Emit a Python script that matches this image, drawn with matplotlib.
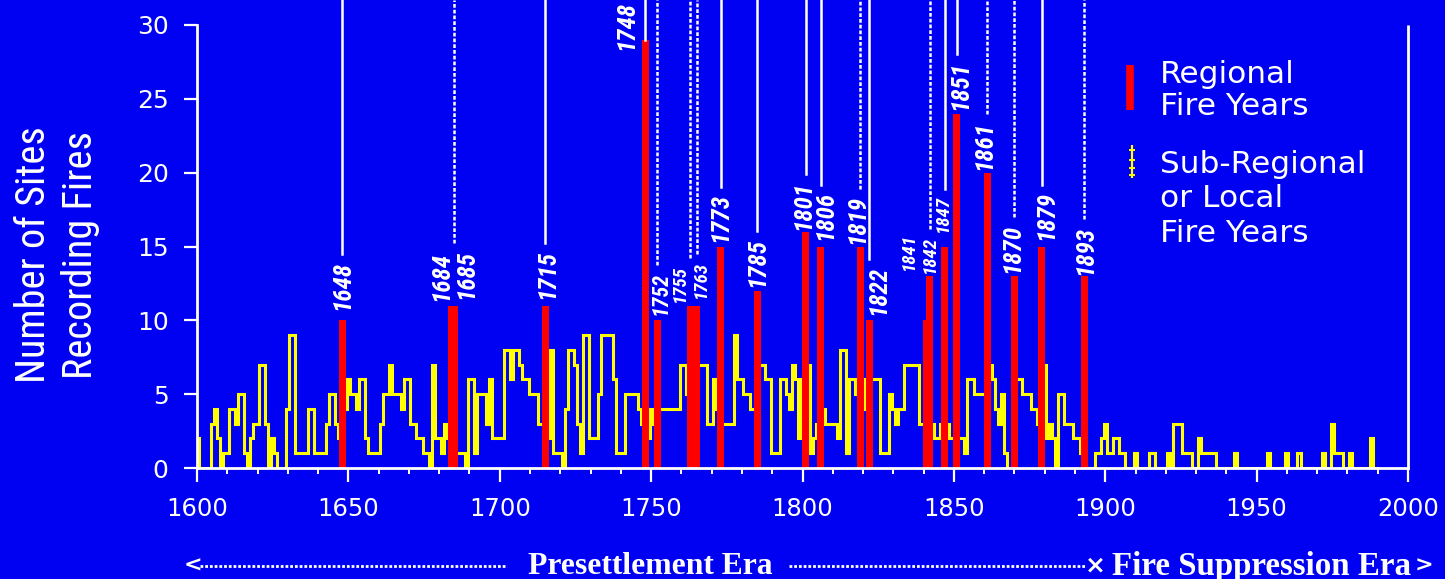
import numpy as np
import matplotlib
matplotlib.use("Agg")
import matplotlib.pyplot as plt
from matplotlib import font_manager as fm
from matplotlib.lines import Line2D

# ------------------------------------------------------------------
# Fire-history record: number of sites recording fire in each year
# ------------------------------------------------------------------
first_year = 1600
sub_regional_sites = [
    # 1600-1609 ... one row per decade
    2, 0, 0, 0, 0, 3, 4, 2, 0, 1,
    1, 4, 4, 3, 5, 5, 1, 0, 2, 3,
    3, 7, 7, 3, 0, 2, 1, 0, 0, 0,
    4, 9, 9, 1, 1, 1, 1, 4, 4, 1,
    1, 1, 1, 3, 5, 5, 3, 2, 1, 4,
    6, 5, 5, 4, 6, 6, 2, 1, 1, 1,
    1, 3, 5, 5, 7, 5, 5, 5, 4, 6,
    6, 3, 3, 2, 2, 1, 1, 0, 7, 2,
    2, 1, 3, 2, 2, 2, 1, 1, 1, 0,
    6, 6, 1, 5, 5, 5, 3, 6, 2, 2,
    2, 2, 8, 8, 6, 8, 8, 7, 6, 6,   # 1700s
    5, 5, 5, 3, 3, 2, 2, 8, 1, 1,
    1, 0, 4, 8, 8, 7, 3, 1, 9, 9,
    2, 2, 2, 5, 9, 9, 9, 9, 6, 1,
    1, 1, 5, 5, 5, 5, 4, 3, 3, 2,
    4, 3, 3, 4, 4, 4, 4, 4, 4, 4,
    7, 7, 5, 3, 4, 3, 7, 7, 7, 3,
    3, 6, 4, 3, 3, 3, 3, 3, 9, 6,
    6, 5, 5, 4, 4, 3, 7, 7, 6, 6,
    1, 1, 1, 6, 6, 5, 4, 7, 6, 2,
    6, 3, 7, 1, 2, 3, 4, 4, 3, 3,   # 1800s
    3, 3, 2, 8, 8, 1, 6, 6, 5, 3,
    6, 4, 3, 6, 6, 6, 1, 1, 1, 5,
    4, 3, 4, 4, 7, 7, 7, 7, 7, 3,
    3, 3, 3, 3, 2, 2, 3, 3, 3, 2,
    2, 2, 2, 2, 1, 6, 6, 5, 5, 5,
    5, 3, 7, 6, 4, 3, 5, 1, 0, 0,
    3, 6, 6, 5, 5, 5, 4, 4, 3, 3,
    7, 2, 3, 2, 0, 5, 5, 3, 3, 3,
    2, 2, 1, 3, 0, 0, 0, 1, 1, 2,
    3, 1, 1, 2, 2, 1, 1, 0, 0, 0,   # 1900s
    1, 0, 0, 0, 0, 1, 1, 0, 0, 0,
    0, 1, 0, 3, 3, 3, 1, 1, 1, 0,
    0, 2, 1, 1, 1, 1, 1, 0, 0, 0,
    0, 0, 0, 1, 0, 0, 0, 0, 0, 0,
    0, 0, 0, 0, 1, 0, 0, 0, 0, 0,
    1, 0, 0, 0, 1, 0, 0, 0, 0, 0,
    0, 0, 1, 0, 0, 3, 1, 1, 1, 0,
    0, 1, 0, 0, 0, 0, 0, 0, 2, 0,
    0,
]
years = np.arange(first_year, first_year + len(sub_regional_sites))

regional_years = [1648, 1684, 1685, 1715, 1748, 1752, 1763, 1765, 1773, 1785,
                  1801, 1806, 1819, 1822, 1841, 1842, 1847, 1851, 1861, 1870,
                  1879, 1893]
regional_sites = [10, 11, 11, 11, 29, 10, 11, 11, 15, 12,
                  16, 15, 15, 10, 10, 13, 15, 24, 20, 13,
                  15, 13]
regional_labels = ["1648", "1684", "1685", "1715", "1748", "1752", "1755", "1763",
                   "1773", "1785", "1801", "1806", "1819", "1822", "1841", "1842",
                   "1847", "1851", "1861", "1870", "1879", "1893"]

y_ticks = [0, 5, 10, 15, 20, 25, 30]
x_ticks = [1600, 1650, 1700, 1750, 1800, 1850, 1900, 1950, 2000]

# ------------------------------------------------------------------
# Styling
# ------------------------------------------------------------------
BLUE = "#0000F2"
RED = "#FF0000"
YELLOW = "#FFFF00"
WHITE = "#FFFFFF"

W, H, DPI = 1445, 579, 100

available = {f.name for f in fm.fontManager.ttflist}


def first_available(names, default="DejaVu Sans"):
    for n in names:
        if n in available:
            return n
    return default


NARROW = first_available(["Liberation Sans Narrow", "Roboto Condensed",
                          "Open Sans Condensed", "Arial Narrow"])
narrow_kw = {"family": NARROW}
if NARROW == "DejaVu Sans":
    narrow_kw["fontstretch"] = "condensed"
SERIF = first_available(["Liberation Serif", "DejaVu Serif"])

fig = plt.figure(figsize=(W / DPI, H / DPI), dpi=DPI, facecolor=BLUE)
renderer = fig.canvas.get_renderer()


def fpos(x, y):
    """pixel position (from top-left) -> figure fraction"""
    return x / W, 1 - y / H


def fitted_size(text, target_px, **kw):
    probe = fig.text(0, 0, text, fontsize=20, **kw)
    width = probe.get_window_extent(renderer).width
    probe.remove()
    return 20 * target_px / width


ax = fig.add_axes([197 / W, 1 - 468 / H, (1408 - 197) / W, (468 - 25) / H])
ax.set_facecolor(BLUE)
ax.set_xlim(1600, 2000)
ax.set_ylim(0, 30)

# sub-regional / local fire years: yearly outline
edges = np.append(years, years[-1] + 1) - 0.5
ax.stairs(sub_regional_sites, edges, baseline=0, fill=False,
          color=YELLOW, linewidth=2.2, zorder=2)

# regional fire years
ax.bar(regional_years, regional_sites, width=2.3, color=RED,
       linewidth=0, zorder=3)

# axes cosmetics
ax.spines["top"].set_visible(False)
for side in ("left", "bottom"):
    ax.spines[side].set_color(WHITE)
    ax.spines[side].set_linewidth(2)
    ax.spines[side].set_zorder(4)
ax.spines["right"].set_color(WHITE)
ax.spines["right"].set_linewidth(2)
ax.spines["right"].set_linestyle((0, (1, 1)))

ax.set_yticks(y_ticks)
ax.set_xticks(x_ticks)
ax.set_xticks(np.arange(1600, 2001, 10), minor=True)
ax.tick_params(axis="y", direction="out", length=9.5, width=1.6, pad=11,
               colors=WHITE, labelsize=18)
ax.tick_params(axis="x", which="major", direction="out", length=10, width=1.6,
               pad=11, colors=WHITE, labelsize=17.5)
ax.tick_params(axis="x", which="minor", direction="out", length=4, width=1.4,
               colors=WHITE)

# y-axis title
ylab_size = fitted_size("Number of Sites", 256, **narrow_kw)
fig.text(*fpos(57, 255), "Number of Sites\nRecording Fires", rotation=90,
         ha="center", va="center", multialignment="center", color=WHITE,
         fontsize=ylab_size, linespacing=50 / (ylab_size * DPI / 72), **narrow_kw)

# ------------------------------------------------------------------
# Year labels with leader lines
# ------------------------------------------------------------------
# label: (x shift px, gap above bar px, type size, leader style)
label_layout = {
    "1648": (0, 10, "big", "solid"),
    "1684": (-10, 5, "big", None),
    "1685": (12, 7, "big", "dotted"),
    "1715": (2, 7, "big", "solid"),
    "1748": (-19, -10, "big", "side"),
    "1752": (3, 5, "mid", "dotted"),
    "1755": (-11, 4, "small", "dotted"),
    "1763": (4, 8, "small", "dotted"),
    "1773": (0, 4, "big", "solid"),
    "1785": (0, 4, "big", "solid"),
    "1801": (-2, 2, "big", "solid"),
    "1806": (5, 6, "big", "solid"),
    "1819": (-3, 2, "big", "dotted"),
    "1822": (9, 5, "big", "solid"),
    "1841": (-18, 50, "small", None),
    "1842": (0, 3, "small", "dotted"),
    "1847": (-2, 14, "small", "solid"),
    "1851": (3, 4, "big", "solid"),
    "1861": (-3, 3, "big", "dotted"),
    "1870": (-2, 3, "big", "dotted"),
    "1879": (5, 6, "big", "solid"),
    "1893": (1, 1, "big", "dotted"),
}

label_kw = dict(weight="bold", style="italic", **narrow_kw)
label_sizes = {"big": fitted_size("1648", 49, **label_kw),
               "mid": fitted_size("1648", 43, **label_kw),
               "small": fitted_size("1648", 37, **label_kw)}

texts = []
for yr, val, lab in zip(regional_years, regional_sites, regional_labels):
    dx, gap, size_key, leader = label_layout[lab]
    t = ax.annotate(lab, xy=(yr, val), xycoords="data",
                    xytext=(dx, gap), textcoords="offset pixels",
                    rotation=90, ha="center", va="bottom", color=WHITE,
                    fontsize=label_sizes[size_key],
                    annotation_clip=False, zorder=5, **label_kw)
    texts.append((t, yr, val, leader))

fig.canvas.draw()
to_fig = fig.transFigure.inverted()
for t, yr, val, leader in texts:
    if leader is None:
        continue
    bx, by = ax.transData.transform((yr, val))
    if leader == "side":
        y0 = by
    else:
        y0 = t.get_window_extent(renderer).y1 + 7
    (fx, fy0) = to_fig.transform((bx, y0))
    ls = "-" if leader in ("solid", "side") else (0, (1.5, 0.8))
    fig.add_artist(Line2D([fx, fx], [fy0, 1.0], color=WHITE, linewidth=1.8,
                          linestyle=ls, zorder=5))

# ------------------------------------------------------------------
# Legend
# ------------------------------------------------------------------
fig.add_artist(Line2D([1130 / W] * 2, [1 - 65 / H, 1 - 110 / H],
                      color=RED, linewidth=5.5, solid_capstyle="butt"))
fig.add_artist(Line2D([1132 / W] * 2, [1 - 145 / H, 1 - 178 / H],
                      color=YELLOW, linewidth=1.6, solid_capstyle="butt"))
fig.add_artist(Line2D([1132 / W] * 4, [1 - y / H for y in (150, 160, 168, 175)],
                      color=YELLOW, linestyle="none", marker="_", markersize=5,
                      markeredgewidth=1.4))
legend_lines = [("Regional", 83), ("Fire Years", 115),
                ("Sub-Regional", 173), ("or Local", 207), ("Fire Years", 242)]
for txt, base in legend_lines:
    fig.text(*fpos(1160, base), txt, ha="left", va="baseline", color=WHITE,
             fontsize=22.5)

# ------------------------------------------------------------------
# Era band along the bottom
# ------------------------------------------------------------------
era_y = 566
era_kw = dict(family=SERIF, weight="bold")
fig.text(*fpos(650, era_y), "Presettlement Era", ha="center", va="center",
         color=WHITE, fontsize=fitted_size("Presettlement Era", 245, **era_kw),
         **era_kw)
fig.text(*fpos(1262, era_y), "Fire Suppression Era", ha="center", va="center",
         color=WHITE, fontsize=fitted_size("Fire Suppression Era", 300, **era_kw),
         **era_kw)
for x0, x1 in ((200, 507), (789, 1086)):
    fig.add_artist(Line2D([x0 / W, x1 / W], [1 - era_y / H] * 2, color=WHITE,
                          linewidth=2, linestyle=(0, (1, 0.7))))
fig.text(*fpos(193, era_y), "<", ha="center", va="center", color=WHITE,
         fontsize=16, weight="bold")
fig.text(*fpos(1095, era_y), "×", ha="center", va="center", color=WHITE,
         fontsize=18, weight="bold")
fig.text(*fpos(1424, era_y), ">", ha="center", va="center", color=WHITE,
         fontsize=16, weight="bold")

fig.savefig("out.png", dpi=DPI, facecolor=BLUE)
